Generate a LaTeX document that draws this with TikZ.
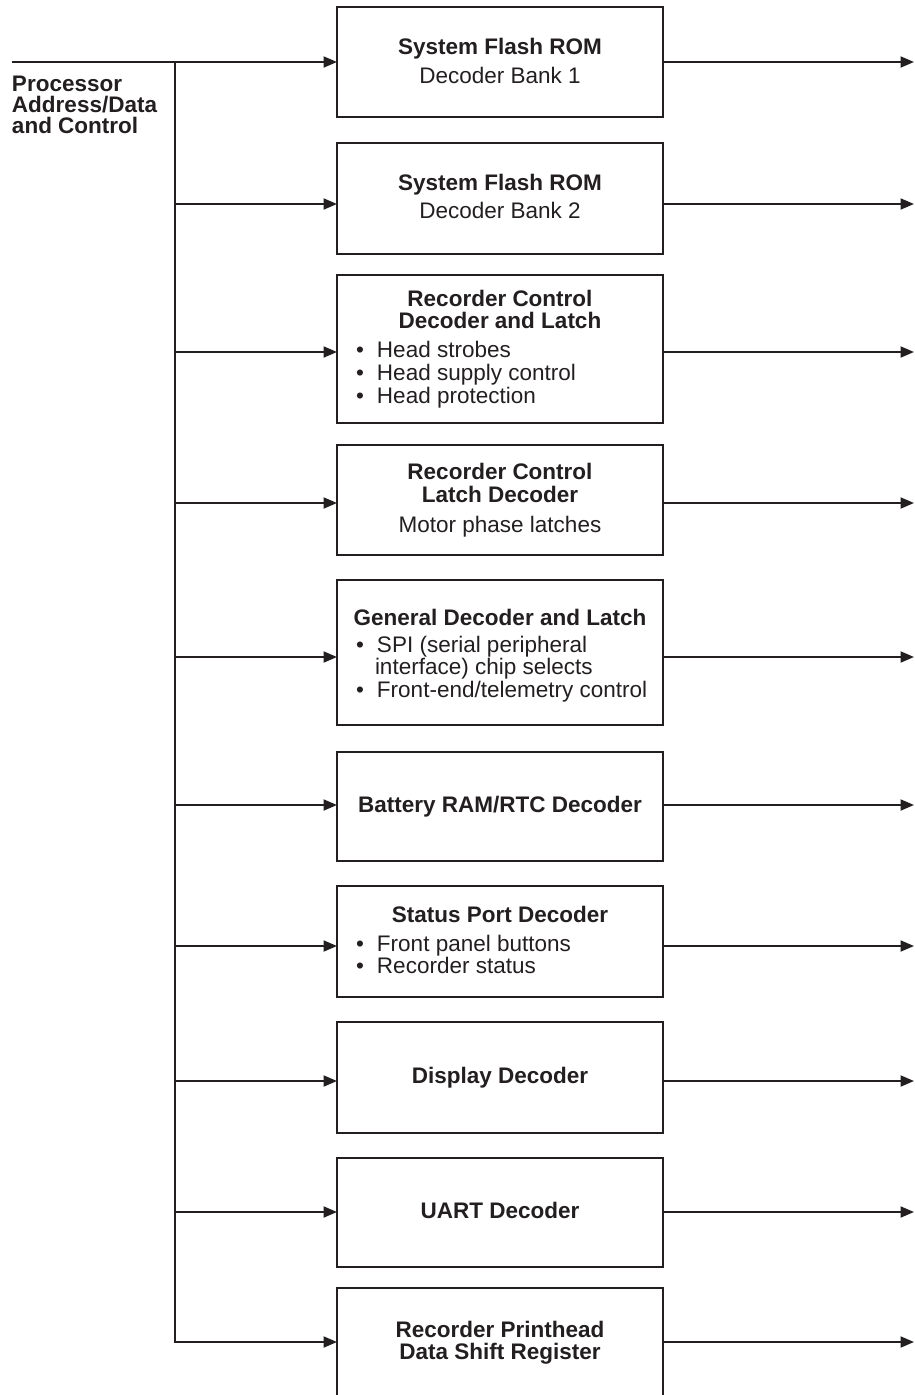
\documentclass[tikz,border=0pt]{standalone}
\usepackage{fontspec}
\setmainfont{Liberation Sans}
\usetikzlibrary{arrows.meta}
\definecolor{ink}{HTML}{231F20}
\newcommand\fsz{\fontsize{22.5}{24}\selectfont}
\newcommand\bul{\makebox[21pt][l]{•}}
\begin{document}
\begin{tikzpicture}[x=1pt,y=-1pt,
  line width=2pt, draw=ink, text=ink,
  blk/.style={draw=ink, line width=2pt, minimum width=326pt, inner sep=0pt, outer sep=0pt},
  arr/.style={-{Triangle[length=13.5pt,width=11pt]}, line join=miter},
  ttl/.style={anchor=base, inner sep=0pt, font=\fsz\bfseries},
  sub/.style={anchor=base, inner sep=0pt, font=\fsz},
  itm/.style={anchor=base west, inner sep=0pt, font=\fsz},
  lbl/.style={anchor=base west, inner sep=0pt, font=\fsz\bfseries}]
\useasboundingbox (0,0) rectangle (914,1395);
\begin{scope}
\clip (0,0) rectangle (914,1395);
% boxes
\node[blk, minimum height=110pt] (b1) at (500,62) {};
\node[blk, minimum height=111pt] (b2) at (500,198.5) {};
\node[blk, minimum height=148pt] (b3) at (500,349) {};
\node[blk, minimum height=110pt] (b4) at (500,500) {};
\node[blk, minimum height=145pt] (b5) at (500,652.5) {};
\node[blk, minimum height=109pt] (b6) at (500,806.5) {};
\node[blk, minimum height=111pt] (b7) at (500,941.5) {};
\node[blk, minimum height=111pt] (b8) at (500,1077.5) {};
\node[blk, minimum height=109pt] (b9) at (500,1212.5) {};
\node[blk, minimum height=132pt] (b10) at (500,1354) {};

% texts
\node[ttl] (h1) at (500,54) {System Flash ROM};
\node[sub] (s1) at (500,83) {Decoder Bank 1};
\node[ttl] (h2) at (500,190) {System Flash ROM};
\node[sub] (s2) at (500,218) {Decoder Bank 2};
\node[ttl] (h3a) at (500,306) {Recorder Control};
\node[ttl] (h3b) at (500,328) {Decoder and Latch};
\node[itm] (i3a) at (355,357) {\bul Head strobes};
\node[itm] (i3b) at (355,380) {\bul Head supply control};
\node[itm] (i3c) at (355,403) {\bul Head protection};
\node[ttl] (h4a) at (500,479) {Recorder Control};
\node[ttl] (h4b) at (500,502) {Latch Decoder};
\node[sub] (s4) at (500,532) {Motor phase latches};
\node[ttl] (h5) at (500,625) {General Decoder and Latch};
\node[itm] (i5a) at (355,652) {\bul SPI (serial peripheral};
\node[itm] (i5b) at (355,674) {\hspace*{19pt}interface) chip selects};
\node[itm] (i5c) at (355,697) {\bul Front-end/telemetry control};
\node[ttl] (h6) at (500,812) {Battery RAM/RTC Decoder};
\node[ttl] (h7) at (500,922) {Status Port Decoder};
\node[itm] (i7a) at (355,951) {\bul Front panel buttons};
\node[itm] (i7b) at (355,973) {\bul Recorder status};
\node[ttl] (h8) at (500,1083) {Display Decoder};
\node[ttl] (h9) at (500,1218) {UART Decoder};
\node[ttl] (h10a) at (500,1337) {Recorder Printhead};
\node[ttl] (h10b) at (500,1359) {Data Shift Register};

% left label
\node[lbl] (l1) at (11,91) {Processor};
\node[lbl] (l2) at (11,112) {Address/Data};
\node[lbl] (l3) at (11,133) {and Control};

% bus taps
\coordinate (in) at (12,62);
\coordinate (t1) at (175,62);
\coordinate (t2) at (175,204);
\coordinate (t3) at (175,352);
\coordinate (t4) at (175,503);
\coordinate (t5) at (175,657);
\coordinate (t6) at (175,805);
\coordinate (t7) at (175,946);
\coordinate (t8) at (175,1081);
\coordinate (t9) at (175,1212);
\coordinate (t10) at (175,1342);

\draw[arr] (in) -- (t1 -| b1.west);
\draw[arr] (t1) -- (t10) -- (t10 -| b10.west);
\foreach \i in {2,...,9} {
  \draw[arr] (t\i) -- (t\i -| b\i.west);
}
% outputs
\foreach \i in {1,...,10} {
  \coordinate (o\i) at (914,0 |- t\i);
  \draw[arr] (t\i -| b\i.east) -- (o\i);
}
\end{scope}
\end{tikzpicture}
\end{document}
